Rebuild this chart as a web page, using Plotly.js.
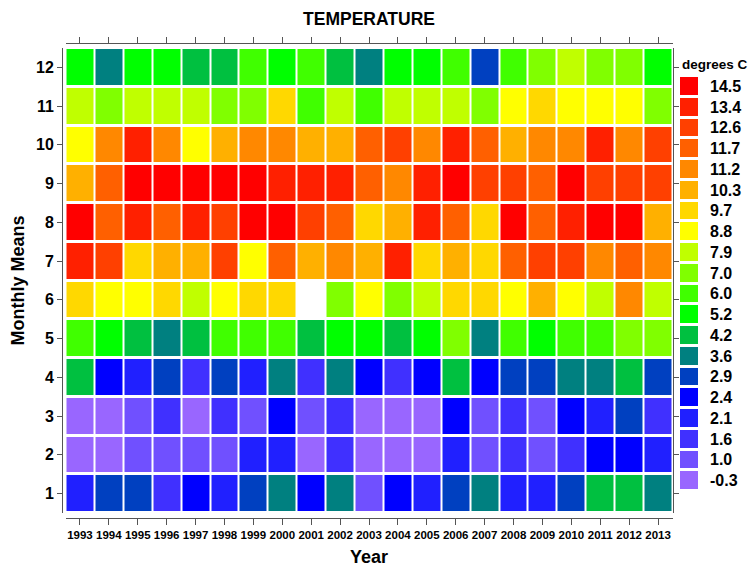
<!DOCTYPE html>
<html>
<head>
<meta charset="utf-8">
<script src="https://cdn.plot.ly/plotly-3.0.1.min.js"></script>
<style>html,body{margin:0;padding:0;background:#fff;}#chart{width:748px;height:567px;}</style>
</head>
<body>
<div id="chart"></div>
<script>
// ---- data ----
const years = [1993,1994,1995,1996,1997,1998,1999,2000,2001,2002,2003,2004,2005,2006,2007,2008,2009,2010,2011,2012,2013];
const months = [1,2,3,4,5,6,7,8,9,10,11,12];
// legend levels (degrees C), lowest first, and their colours
const levels = [-0.3,1.0,1.6,2.1,2.4,2.9,3.6,4.2,5.2,6.0,7.0,7.9,8.8,9.7,10.3,11.2,11.7,12.6,13.4,14.5];
const levelColors = ['#9966FF','#7050FF','#4030FF','#2020FF','#0000FF','#0040C0','#008080','#00C040','#00FF00','#40FF00','#80FF00','#C0FF00','#FFFF00','#FFD800','#FFB000','#FF8800','#FF6000','#FF4000','#FF2000','#FF0000'];
// monthly means, one array per month, 1993..2013
const jan = [2.1,2.9,2.9,1.6,2.4,2.1,2.9,3.6,2.4,3.6,1.0,2.4,2.1,2.9,3.6,2.1,2.1,2.9,4.2,4.2,3.6];
const feb = [-0.3,-0.3,1.0,1.0,1.0,1.0,2.1,2.1,-0.3,1.6,-0.3,-0.3,-0.3,2.1,1.0,1.6,1.0,1.6,2.4,2.4,2.1];
const mar = [-0.3,-0.3,1.0,1.6,-0.3,1.6,1.0,2.4,1.0,1.6,-0.3,-0.3,-0.3,2.4,1.0,1.6,1.0,2.4,2.1,2.9,1.6];
const apr = [4.2,2.4,2.1,2.9,1.6,2.9,2.1,3.6,1.6,3.6,2.4,1.6,2.4,4.2,2.4,2.9,2.9,3.6,3.6,4.2,2.9];
const may = [6.0,5.2,4.2,3.6,4.2,6.0,6.0,6.0,4.2,5.2,5.2,4.2,5.2,7.0,3.6,6.0,5.2,6.0,6.0,7.0,7.0];
const jun = [9.7,8.8,8.8,9.7,7.9,8.8,9.7,9.7,null,7.0,8.8,7.0,7.9,9.7,9.7,8.8,10.3,8.8,7.9,11.2,7.9];
const jul = [13.4,12.6,9.7,10.3,10.3,12.6,8.8,11.7,10.3,11.2,10.3,13.4,9.7,10.3,9.7,11.7,12.6,12.6,11.2,11.7,11.2];
const aug = [14.5,11.7,13.4,11.7,13.4,12.6,14.5,14.5,12.6,11.7,9.7,10.3,13.4,11.7,9.7,14.5,11.7,13.4,14.5,14.5,10.3];
const sep = [10.3,11.7,14.5,14.5,14.5,14.5,14.5,13.4,13.4,13.4,11.7,11.2,13.4,14.5,12.6,12.6,11.7,14.5,12.6,12.6,12.6];
const oct = [8.8,11.2,13.4,11.2,8.8,10.3,11.2,11.2,10.3,10.3,11.7,12.6,11.2,13.4,11.7,10.3,11.2,11.2,13.4,11.2,12.6];
const nov = [7.9,7.0,7.9,7.9,7.9,7.0,7.0,9.7,6.0,7.9,6.0,7.9,7.9,7.9,7.0,8.8,9.7,8.8,8.8,8.8,7.0];
const dec = [5.2,3.6,5.2,5.2,4.2,4.2,6.0,5.2,6.0,4.2,3.6,5.2,5.2,6.0,2.9,6.0,7.0,7.9,7.0,7.0,5.2];

// ---- build ----
const temps = [jan,feb,mar,apr,may,jun,jul,aug,sep,oct,nov,dec];
const levelIndex = v => (v === null ? null : levels.indexOf(v));
const zIdx = temps.map(row => row.map(levelIndex));
const n = levels.length;
const colorscale = [];
levelColors.forEach((c, i) => { colorscale.push([i / n, c]); colorscale.push([(i + 1) / n, c]); });

const FONT = 'Liberation Sans, Arial, sans-serif';
const AX = '#555555';

const main = {
  type: 'heatmap', x: years, y: months, z: zIdx,
  text: temps, hovertemplate: '%{x}, month %{y}: %{text} °C<extra></extra>',
  colorscale: colorscale, zmin: -0.5, zmax: n - 0.5, showscale: false,
  xgap: 2, ygap: 3, xaxis: 'x', yaxis: 'y'
};
const legendIdx = levels.map((v, i) => i);
const legend = {
  type: 'heatmap', x: [0], y: legendIdx, z: legendIdx.map(i => [i]),
  colorscale: colorscale, zmin: -0.5, zmax: n - 0.5, showscale: false,
  ygap: 3, xaxis: 'x2', yaxis: 'y2', hoverinfo: 'skip'
};

const W = 686, H = 475; // paper area in px (l=62, t=43)
const layout = {
  width: 748, height: 567,
  margin: {l: 62, r: 0, t: 43, b: 49},
  paper_bgcolor: '#ffffff', plot_bgcolor: '#ffffff',
  font: {family: FONT, color: '#000'},
  showlegend: false,
  title: {text: 'TEMPERATURE', font: {size: 17.5, weight: 700, family: FONT},
          x: (369 - 62) / W, xref: 'paper', xanchor: 'center', y: 1 - 19 / 567, yref: 'container', yanchor: 'middle'},
  xaxis: {domain: [(65.5 - 62) / W, (672.5 - 62) / W], range: [1992.5, 2013.5], tickvals: years,
          anchor: 'free', position: 0, side: 'bottom', showline: true, linecolor: AX, linewidth: 1,
          ticks: 'outside', ticklen: 6, tickcolor: AX, showgrid: false, zeroline: false,
          tickfont: {size: 11.5, weight: 700, family: FONT}, fixedrange: true,
          title: {text: 'Year', font: {size: 18, weight: 700, family: FONT}, standoff: 14}},
  xaxis3: {overlaying: 'x', range: [1992.5, 2013.5], tickvals: years, anchor: 'free', position: 1, side: 'top',
           showline: true, linecolor: AX, ticks: 'outside', ticklen: 6, tickcolor: AX,
           showticklabels: false, showgrid: false, zeroline: false, fixedrange: true},
  yaxis: {domain: [(518 - 513) / H, (518 - 48) / H], range: [0.5, 12.5], tickvals: months,
          anchor: 'free', position: 0, side: 'left', showline: true, linecolor: AX,
          ticks: 'outside', ticklen: 5, tickcolor: AX, showgrid: false, zeroline: false,
          tickfont: {size: 16, weight: 700, family: FONT}, fixedrange: true,
          title: {text: 'Monthly Means', font: {size: 18, weight: 700, family: FONT}, standoff: 5}},
  yaxis3: {overlaying: 'y', range: [0.5, 12.5], tickvals: months, anchor: 'x', side: 'right',
           showline: true, linecolor: AX, ticks: 'outside', ticklen: 5, tickcolor: AX,
           showticklabels: false, showgrid: false, zeroline: false, fixedrange: true},
  xaxis2: {domain: [(680 - 62) / W, (698 - 62) / W], anchor: 'y2', range: [-0.5, 0.5], visible: false, fixedrange: true},
  yaxis2: {domain: [(518 - 491) / H, (518 - 76) / H], anchor: 'x2', side: 'right', range: [-0.5, n - 0.5],
           tickvals: legendIdx, ticktext: levels.map(v => v.toFixed(1)), ticks: '', ticklabelstandoff: 11,
           showline: false, showgrid: false, zeroline: false, fixedrange: true,
           tickfont: {size: 16, weight: 700, family: FONT}},
  annotations: [{text: 'degrees C', xref: 'paper', yref: 'paper', x: (680 - 62) / W, y: (518 - 64) / H,
                 xanchor: 'left', yanchor: 'middle', showarrow: false,
                 font: {size: 13.5, weight: 700, family: FONT, color: '#000'}}]
};
// empty traces so the mirror axes (top and right) are drawn
const topDummy = {type: 'scatter', x: [], y: [], xaxis: 'x3', yaxis: 'y', hoverinfo: 'skip'};
const rightDummy = {type: 'scatter', x: [], y: [], xaxis: 'x', yaxis: 'y3', hoverinfo: 'skip'};
Plotly.newPlot('chart', [main, legend, topDummy, rightDummy], layout, {displayModeBar: false, staticPlot: true});
</script>
</body>
</html>
